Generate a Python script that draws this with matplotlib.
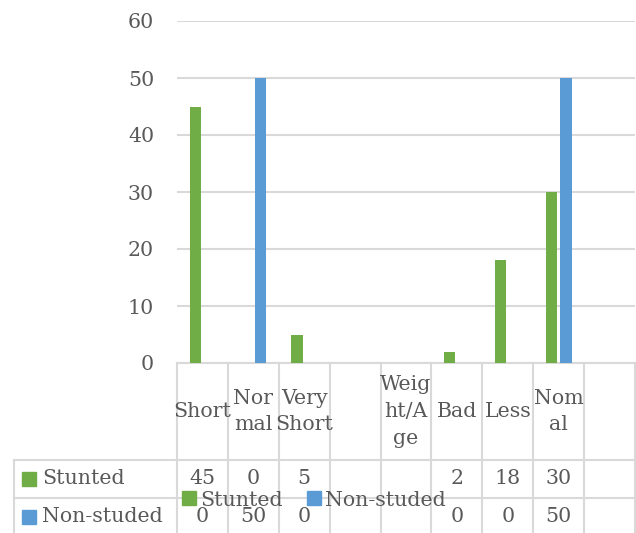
import numpy as np
import matplotlib
matplotlib.use('Agg')
import matplotlib.pyplot as plt
from matplotlib.patches import Patch

plt.rcParams['font.family'] = 'DejaVu Serif'
plt.rcParams['font.size'] = 14.8

# categories as they wrap in the table header
categories = ['Short', 'Nor\nmal', 'Very\nShort', '', 'Weig\nht/A\nge',
              'Bad', 'Less', 'Nom\nal', '']
series_names = ['Stunted', 'Non-studed']
stunted = [45, 0, 5, np.nan, np.nan, 2, 18, 30, np.nan]
non_studed = [0, 50, 0, np.nan, np.nan, 0, 0, 50, np.nan]
yticks = [0, 10, 20, 30, 40, 50, 60]

green = '#70AD47'
blue = '#5B9BD5'
grid_c = '#D9D9D9'
text_c = '#595959'

W, H = 636, 533
fig = plt.figure(figsize=(W / 100, H / 100), dpi=100)
# plot area in pixels: x 177..635, y 21..363
ax = fig.add_axes([177 / W, (H - 363) / H, 458 / W, 342 / H])

n = len(categories)
x = np.arange(n)
bw = 0.225
off = 0.14
ax.bar(x - off, stunted, width=bw, color=green, zorder=3)
ax.bar(x + off, non_studed, width=bw, color=blue, zorder=3)

ax.set_xlim(-0.5, n - 0.5)
ax.set_ylim(0, 60)
ax.set_yticks(yticks)
ax.set_xticks([])
ax.tick_params(axis='y', length=0, pad=16.5, colors=text_c)
ax.yaxis.grid(True, color=grid_c, lw=1.5, zorder=0)
for s in ['top', 'right', 'left']:
    ax.spines[s].set_visible(False)
ax.spines['bottom'].set_color(grid_c)
ax.spines['bottom'].set_linewidth(1.5)

# data table under the plot
px = 458 / n            # pixels per category
def ay(p):              # pixel row -> axes fraction
    return (363 - p) / 342
def dx(p):              # pixel column -> data x
    return (p - 177) / px - 0.5

tr = ax.get_xaxis_transform()
lkw = dict(color=grid_c, lw=1.5, transform=tr, clip_on=False, zorder=1)
row_lines = [460, 498, 536]
y_bot = ay(560)
for b in np.arange(n + 1) - 0.5:
    ax.plot([b, b], [0, y_bot], **lkw)
ax.plot([dx(14), dx(14)], [ay(460), y_bot], **lkw)
for r in row_lines:
    ax.plot([dx(14), n - 0.5], [ay(r), ay(r)], **lkw)

tkw = dict(transform=tr, clip_on=False, color=text_c, ha='center', va='center')
for i, lab in enumerate(categories):
    ax.text(i, ay(411.5), lab, linespacing=1.5, **tkw)

row_y = [479, 517]
for vals, name, c, yy in zip([stunted, non_studed], series_names,
                             [green, blue], row_y):
    ax.plot([dx(29)], [ay(yy)], marker='s', ms=10, color=c,
            transform=tr, clip_on=False, zorder=4)
    ax.text(dx(42), ay(yy), name, transform=tr, clip_on=False,
            color=text_c, ha='left', va='center')
    for i, v in enumerate(vals):
        if not np.isnan(v):
            ax.text(i, ay(yy), '{:d}'.format(int(v)), **tkw)

handles = [Patch(color=green), Patch(color=blue)]
fig.legend(handles, series_names, loc='center',
           bbox_to_anchor=(314 / W, (H - 500) / H), ncol=2, frameon=False,
           handlelength=0.68, handleheight=0.68, handletextpad=0.2,
           columnspacing=1.2, labelcolor=text_c, borderpad=0)

fig.savefig('out.png', dpi=100)
